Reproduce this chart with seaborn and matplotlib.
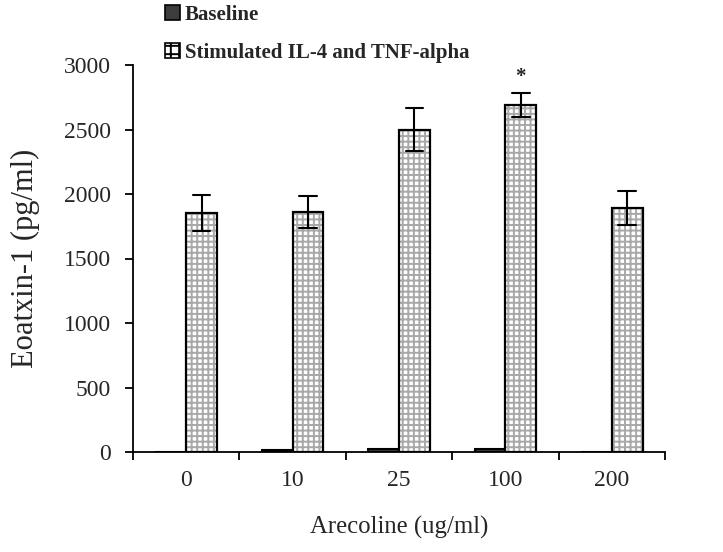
import numpy as np
import pandas as pd
import seaborn as sns
import matplotlib.pyplot as plt
from matplotlib.patches import Patch, Rectangle

doses = ["0", "10", "25", "100", "200"]
groups = ["Baseline", "Stimulated IL-4 and TNF-alpha"]
baseline = [0, 12, 22, 20, 0]
stimulated = [1850, 1860, 2500, 2690, 1890]
stimulated_err = [140, 125, 165, 95, 130]
significant = ["100"]

rows = []
for d, v in zip(doses, baseline):
    rows.append((d, groups[0], v))
for d, v, e in zip(doses, stimulated, stimulated_err):
    rows.append((d, groups[1], v - e))
    rows.append((d, groups[1], v + e))
df = pd.DataFrame(rows, columns=["dose", "group", "value"])

sns.set_theme(style="ticks")
plt.rcParams["font.family"] = ["Liberation Serif", "DejaVu Serif"]
plt.rcParams["hatch.linewidth"] = 1.4

fig = plt.figure(figsize=(7.23, 5.52), dpi=100)
ax = fig.add_axes([133 / 723, 1 - 452 / 552, 532 / 723, 387 / 552])

sns.barplot(data=df, x="dose", y="value", hue="group", order=doses, hue_order=groups,
            estimator="mean", errorbar=("pi", 100), capsize=0.33, width=0.58,
            palette={groups[0]: "#3c3c3c", groups[1]: "white"},
            err_kws={"color": "black", "linewidth": 1.5},
            edgecolor="black", linewidth=1.5, legend=False, ax=ax)

stim_patches = []
for p in list(ax.patches):
    fc = p.get_facecolor()
    if fc[0] > 0.9 and fc[1] > 0.9 and fc[2] > 0.9:
        p.set_hatch("+++")
        p.set_edgecolor("#a8a8a8")
        p.set_linewidth(0)
        outline = Rectangle(p.get_xy(), p.get_width(), p.get_height(), fill=False,
                            edgecolor="black", linewidth=1.6, zorder=1.5)
        ax.add_patch(outline)
        stim_patches.append(p)

for d in significant:
    i = doses.index(d)
    p = stim_patches[i]
    ax.text(p.get_x() + p.get_width() / 2, stimulated[i] + stimulated_err[i] + 125, "*",
            ha="center", va="center", fontsize=15, fontweight="bold")

ax.set_xlim(-0.5, len(doses) - 0.5)
ax.set_ylim(0, 3000)
ax.set_yticks(np.arange(0, 3001, 500))
ax.set_xticks(np.arange(-0.5, len(doses), 1))
ax.set_xticklabels([])
ax.set_xticks(np.arange(len(doses)), minor=True)
ax.set_xticklabels(doses, minor=True)
ax.tick_params(axis="x", which="minor", length=0, pad=13, labelsize=17)
ax.tick_params(axis="x", which="major", length=6, width=1.3, direction="out", color="black")
ax.tick_params(axis="y", length=6, width=1.3, direction="out", pad=10, labelsize=17, color="black")
for s in ["left", "bottom"]:
    ax.spines[s].set_linewidth(1.3)
    ax.spines[s].set_color("black")
sns.despine(ax=ax)

ax.set_xlabel("Arecoline (ug/ml)", fontsize=17.8)
ax.set_ylabel("Eoatxin-1 (pg/ml)", fontsize=22)
ax.xaxis.set_label_coords(0.5, -0.165)
ax.yaxis.set_label_coords(-0.175, 0.5)

handles = [Patch(facecolor="#3c3c3c", edgecolor="black", linewidth=1.2),
           Patch(facecolor="white", edgecolor="black", linewidth=1.2, hatch="++")]
fig.legend(handles, groups, loc="upper left", bbox_to_anchor=(165 / 723, 1 - 5 / 552),
           frameon=False, borderpad=0, borderaxespad=0, handlelength=0.7, handleheight=0.7,
           handletextpad=0.25, labelspacing=0.85, prop={"size": 15, "weight": "bold"})

fig.savefig("out.png", dpi=100)
